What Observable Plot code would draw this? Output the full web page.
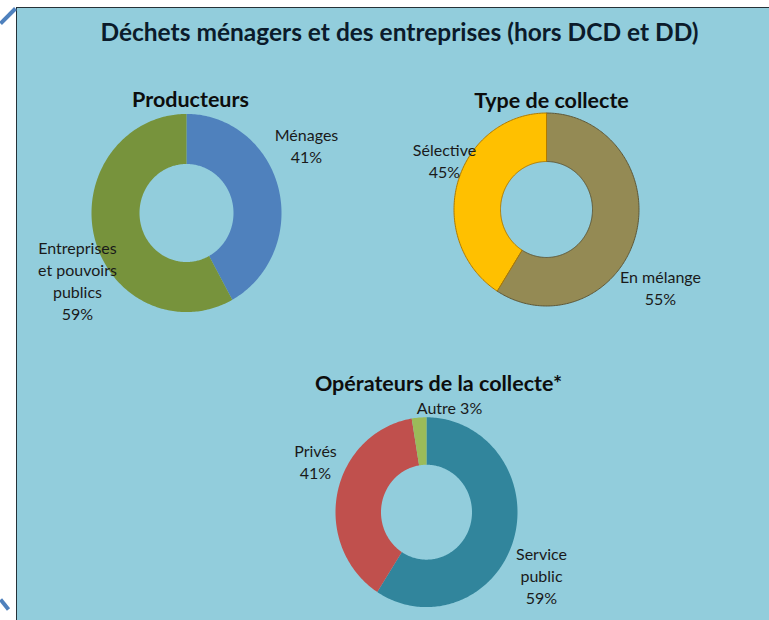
<!DOCTYPE html>
<html>
<head>
<meta charset="utf-8">
<script src="https://cdn.jsdelivr.net/npm/d3@7"></script>
<script src="https://cdn.jsdelivr.net/npm/@observablehq/plot@0.6"></script>
<style>
  html, body { margin: 0; padding: 0; background: #ffffff; overflow: hidden; }
  #wrap { position: relative; width: 769px; height: 620px; }
  #panel { position: absolute; left: 16px; top: 7px; right: 0; bottom: 0;
           background: #92CDDC; border-left: 1.5px solid #263238; border-top: 1.5px solid #263238; }
  #chart { position: absolute; left: 0; top: 0; }
</style>
</head>
<body>
<div id="wrap"><div id="panel"></div><div id="chart"></div></div>
<script>
// ---------- DATA ----------
const mainTitle = "Déchets ménagers et des entreprises (hors DCD et DD)";
const chartTitles = ["Producteurs", "Type de collecte", "Opérateurs de la collecte*"];

const producteursCategories = ["Ménages", "Entreprises et pouvoirs publics"];
const producteursValues = [42, 58];
const producteursLabels = ["Ménages\n41%", "Entreprises\net pouvoirs\npublics\n59%"];

const collecteCategories = ["En mélange", "Sélective"];
const collecteValues = [59, 41];
const collecteLabels = ["En mélange\n55%", "Sélective\n45%"];

const operateursCategories = ["Service public", "Privés", "Autre"];
const operateursValues = [59.1, 38.3, 2.6];
const operateursLabels = ["Service\npublic\n59%", "Privés\n41%", "Autre 3%"];

// ---------- LAYOUT & STYLE ----------
const stretchY = 1.043; // the picture is slightly taller than wide
const layout = [
  { cx: 186, cy: 212.5, r0: 47, r1: 95, title: [190, 106],
    labelPos: [[306, 162], [77, 319]],
    fills: ["#4F81BD", "#77933C"], strokes: ["none", "none"] },
  { cx: 546, cy: 209, r0: 46, r1: 92.5, title: [551, 107],
    labelPos: [[660, 304], [444, 177]],
    fills: ["#948A54", "#FFC000"], strokes: ["#5E5838", "#B07A00"] },
  { cx: 426, cy: 511.7, r0: 45.5, r1: 91, title: [438, 390],
    labelPos: [[541, 603], [315, 478], [449, 413]],
    fills: ["#31859C", "#C0504D", "#9BBB59"], strokes: ["none", "none", "none"] }
];
const titlePos = [399, 40];
const handles = [ {x1: 0, y1: 23, x2: 15, y2: 8}, {x1: 0, y1: 599, x2: 8, y2: 609} ];

const series = [
  { cats: producteursCategories, vals: producteursValues, labels: producteursLabels },
  { cats: collecteCategories, vals: collecteValues, labels: collecteLabels },
  { cats: operateursCategories, vals: operateursValues, labels: operateursLabels }
];

// ---------- BUILD ----------
const slicePoints = [];
const labelRows = [];
const titleRows = [];
series.forEach((s, ci) => {
  const L = layout[ci];
  const total = d3.sum(s.vals);
  let start = 0;
  s.vals.forEach((v, i) => {
    const a0 = start / total * 2 * Math.PI;
    const a1 = (start + v) / total * 2 * Math.PI;
    start += v;
    const n = Math.max(2, Math.ceil((a1 - a0) / (Math.PI / 180)));
    const key = ci + "-" + i;
    const pts = [];
    for (let k = 0; k <= n; k++) pts.push({ a: a0 + (a1 - a0) * k / n, r: L.r1 });
    for (let k = n; k >= 0; k--) pts.push({ a: a0 + (a1 - a0) * k / n, r: L.r0 });
    pts.forEach(p => slicePoints.push({
      key, cat: s.cats[i],
      x: L.cx + p.r * Math.sin(p.a),
      y: L.cy - p.r * stretchY * Math.cos(p.a),
      fill: L.fills[i], stroke: L.strokes[i]
    }));
    labelRows.push({ x: L.labelPos[i][0], y: L.labelPos[i][1], text: s.labels[i] });
  });
  titleRows.push({ x: L.title[0], y: L.title[1], text: chartTitles[ci] });
});

const FONT = "Lato, 'Open Sans', sans-serif";

const plot = Plot.plot({
  width: 769, height: 620, margin: 0,
  x: { domain: [0, 769], range: [0, 769], axis: null },
  y: { domain: [0, 620], range: [0, 620], axis: null },
  color: { type: "identity" },
  style: { background: "transparent", fontFamily: FONT },
  marks: [
    Plot.link(handles, { x1: "x1", y1: "y1", x2: "x2", y2: "y2", stroke: "#4F81BD", strokeWidth: 4 }),
    Plot.line(slicePoints, { x: "x", y: "y", z: "key", fill: "fill", stroke: "stroke",
      strokeWidth: 1, curve: "linear-closed", strokeLinejoin: "miter" }),
    Plot.text([{ x: titlePos[0], y: titlePos[1], text: mainTitle }], {
      x: "x", y: "y", text: "text", lineAnchor: "bottom", fontSize: 24.5, fontWeight: "bold",
      fill: "#0B1B2B", fontFamily: FONT }),
    Plot.text(titleRows, { x: "x", y: "y", text: "text", lineAnchor: "bottom",
      fontSize: 21.5, fontWeight: "bold", fill: "#0d0d0d", fontFamily: FONT }),
    Plot.text(labelRows, { x: "x", y: "y", text: "text", lineAnchor: "bottom",
      lineHeight: 1.375, fontSize: 16, fill: "#1a1a1a", fontFamily: FONT })
  ]
});
document.getElementById("chart").appendChild(plot);
</script>
</body>
</html>
